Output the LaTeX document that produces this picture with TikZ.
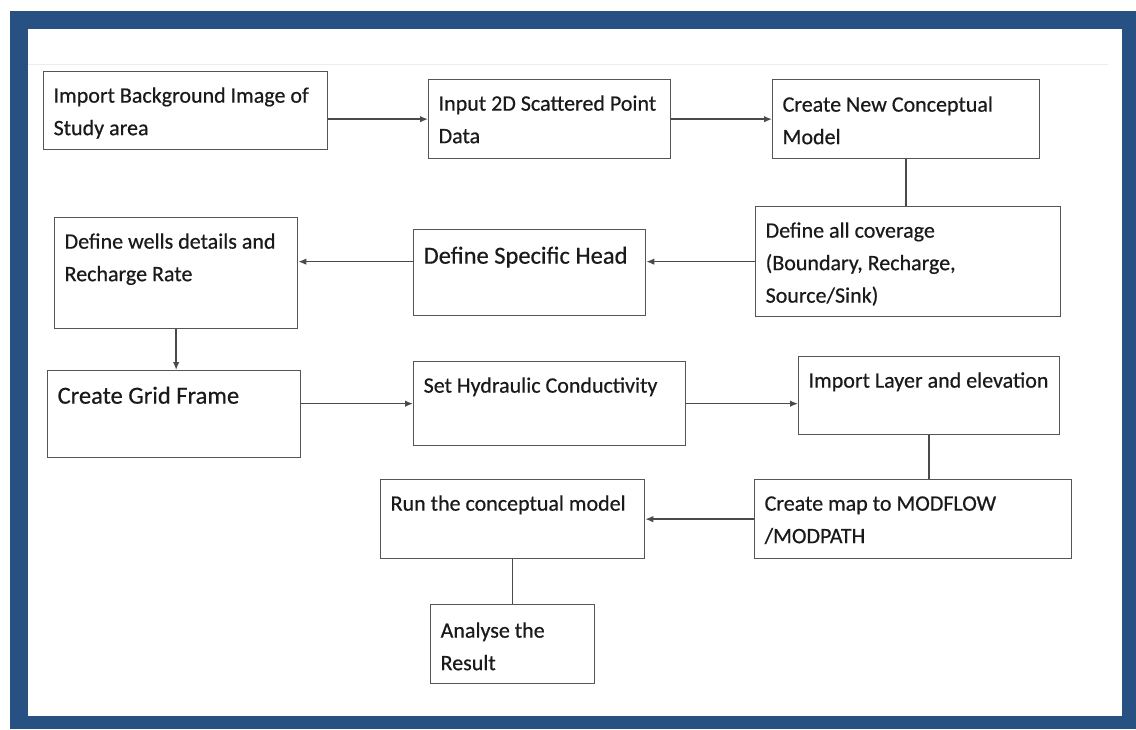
\documentclass[tikz,border=0pt]{standalone}
\usepackage{fontspec}
\setmainfont{Carlito}[FakeBold=0.5]
\usetikzlibrary{arrows.meta}
\definecolor{frameblue}{HTML}{285183}
\definecolor{boxline}{HTML}{555555}
\definecolor{conn}{HTML}{4A4A4A}
\definecolor{txt}{HTML}{1A1A1A}
\newcommand\flowbox[8]{%
  \node[fbox] (#1) at (#2,#3) {\parbox[c][#5pt][t]{\dimexpr#4pt-20pt\relax}{\raggedright\fontsize{#6}{32.5}\selectfont\rule{0pt}{#7pt}#8}};}
\begin{document}
\begin{tikzpicture}[x=1pt,y=-1pt,
  fbox/.style={draw=boxline, line width=1.3pt, fill=white, anchor=north west,
    inner xsep=10pt, inner ysep=0pt, text=txt},
  link/.style={draw=conn, line width=1.4pt},
  arr/.style={link, -{Latex[length=8pt,width=6.5pt]}}]
\useasboundingbox (0,0) rectangle (1136,729);
\fill[white] (0,0) rectangle (1136,729);
\fill[frameblue] (10,11) rectangle (1136,729);
\fill[white] (28,29) rectangle (1122,716);
\draw[black!7, line width=1pt] (28,64) -- (1108,64);

\flowbox{b1}{43}{71}{284}{78}{22}{31}{Import Background Image of\\Study area}
\flowbox{b2}{428}{79}{242}{79}{22}{31}{Input 2D Scattered Point\\Data}
\flowbox{b3}{772}{79}{267}{79}{22}{32}{Create New Conceptual\\Model}
\flowbox{b4}{755}{206}{305}{110}{22}{31}{Define all coverage\\(Boundary, Recharge,\\Source/Sink)}
\flowbox{b5}{413}{229}{232}{86}{24.5}{34}{Define Specific Head}
\flowbox{b6}{54}{217}{243}{111}{22}{31}{Define wells details and\\Recharge Rate}
\flowbox{b7}{47}{370}{253}{87}{24.5}{33}{Create Grid Frame}
\flowbox{b8}{413}{361}{272}{84}{22}{31}{Set Hydraulic Conductivity}
\flowbox{b9}{798}{356}{261}{78}{22}{31}{Import Layer and elevation}
\flowbox{bmap}{754}{479}{317}{79}{22}{31}{Create map to MODFLOW\\/MODPATH}
\flowbox{brun}{380}{479}{264}{79}{22}{31}{Run the conceptual model}
\flowbox{ban}{430}{604}{164}{79}{22}{33}{Analyse the\\Result}

\draw[arr] (b2.west -| b1.east) -- (b2.west);
\draw[arr] (b2.east) -- (b2.east -| b3.west);
\draw[link] (b3.south) -- (b3.south |- b4.north);
\draw[arr] (b4.west) -- (b4.west -| b5.east);
\draw[arr] (b4.west -| b5.west) -- (b4.west -| b6.east);
\draw[arr] (b6.south) -- (b6.south |- b7.north);
\draw[arr] (b8.west -| b7.east) -- (b8.west);
\draw[arr] (b8.east) -- (b8.east -| b9.west);
\draw[link] (b9.south) -- (b9.south |- bmap.north);
\draw[arr] (bmap.west) -- (bmap.west -| brun.east);
\draw[link] (brun.south) -- (brun.south |- ban.north);
\end{tikzpicture}
\end{document}
